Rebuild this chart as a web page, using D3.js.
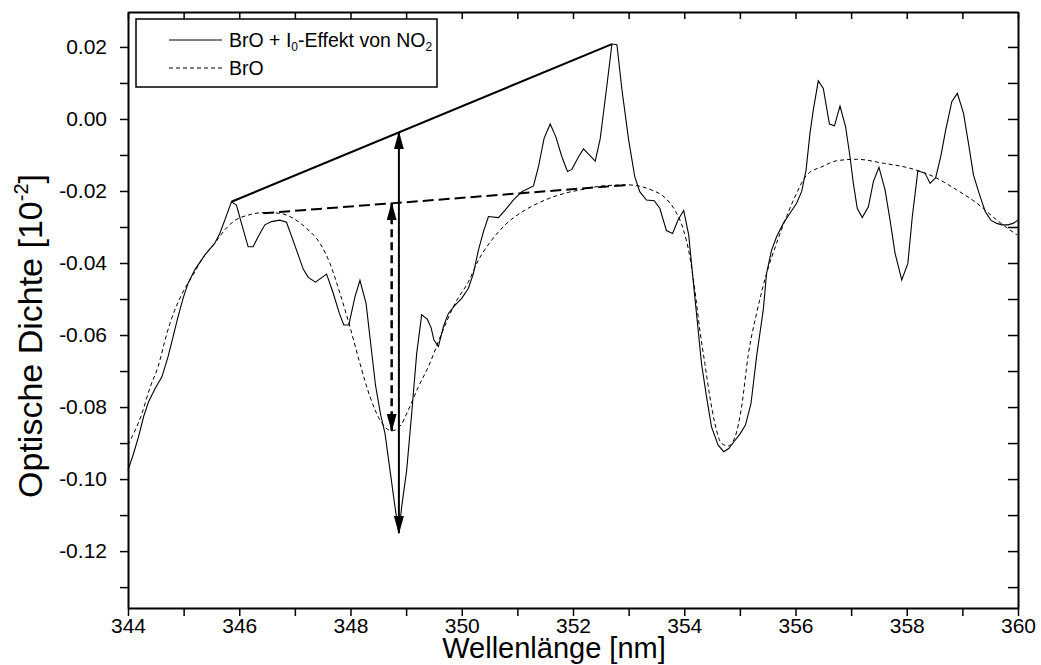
<!DOCTYPE html>
<html>
<head>
<meta charset="utf-8">
<script src="https://cdn.jsdelivr.net/npm/d3@7"></script>
<style>
  body { margin: 0; background: #fff; }
  svg { font-family: Arial, "Liberation Sans", sans-serif; }
</style>
</head>
<body>
<svg width="1041" height="665"></svg>
<script>

// measured spectrum: BrO + I0-Effekt von NO2
var solidNm = [344.00, 344.10, 344.19, 344.28, 344.37, 344.49, 344.61, 344.72, 344.81, 344.90,
    344.99, 345.08, 345.20, 345.38, 345.56, 345.65, 345.74, 345.86, 345.95, 346.04,
    346.16, 346.25, 346.34, 346.46, 346.58, 346.73, 346.85, 347.02, 347.15, 347.24,
    347.37, 347.57, 347.69, 347.80, 347.88, 347.97, 348.08, 348.17, 348.28, 348.36,
    348.45, 348.54, 348.62, 348.71, 348.80, 348.87, 348.92, 349.01, 349.10, 349.19,
    349.28, 349.38, 349.45, 349.50, 349.58, 349.67, 349.76, 349.88, 350.00, 350.12,
    350.21, 350.30, 350.39, 350.48, 350.66, 350.78, 350.93, 351.08, 351.29, 351.38,
    351.48, 351.59, 351.69, 351.80, 351.90, 351.98, 352.10, 352.19, 352.40, 352.49,
    352.60, 352.70, 352.79, 352.88, 353.00, 353.11, 353.20, 353.32, 353.46, 353.56,
    353.68, 353.79, 353.89, 353.99, 354.08, 354.13, 354.19, 354.25, 354.31, 354.40,
    354.49, 354.61, 354.71, 354.80, 354.90, 355.00, 355.10, 355.20, 355.30, 355.42,
    355.48, 355.57, 355.66, 355.78, 355.90, 356.02, 356.11, 356.19, 356.26, 356.32,
    356.41, 356.50, 356.61, 356.70, 356.80, 356.90, 356.98, 357.04, 357.11, 357.20,
    357.31, 357.40, 357.50, 357.61, 357.70, 357.79, 357.91, 358.02, 358.10, 358.20,
    358.33, 358.42, 358.52, 358.61, 358.70, 358.81, 358.91, 359.02, 359.11, 359.20,
    359.30, 359.41, 359.51, 359.62, 359.71, 359.82, 359.91, 360.00];
var solidOD = [-0.0975, -0.0929, -0.0882, -0.0827, -0.0785, -0.0748, -0.0716, -0.0660, -0.0605, -0.0549,
    -0.0498, -0.0456, -0.0419, -0.0378, -0.0345, -0.0318, -0.0281, -0.0230, -0.0239, -0.0290,
    -0.0355, -0.0355, -0.0327, -0.0294, -0.0285, -0.0281, -0.0287, -0.0360, -0.0417, -0.0440,
    -0.0453, -0.0431, -0.0484, -0.0540, -0.0572, -0.0572, -0.0494, -0.0448, -0.0512, -0.0620,
    -0.0740, -0.0820, -0.0873, -0.0975, -0.1077, -0.1150, -0.1077, -0.0975, -0.0818, -0.0651,
    -0.0544, -0.0556, -0.0580, -0.0614, -0.0632, -0.0577, -0.0540, -0.0517, -0.0498, -0.0470,
    -0.0429, -0.0364, -0.0313, -0.0271, -0.0274, -0.0253, -0.0225, -0.0202, -0.0186, -0.0132,
    -0.0054, -0.0014, -0.0049, -0.0105, -0.0146, -0.0140, -0.0105, -0.0083, -0.0117, -0.0054,
    0.0081, 0.0208, 0.0206, 0.0081, -0.0058, -0.0160, -0.0202, -0.0225, -0.0227, -0.0248,
    -0.0310, -0.0318, -0.0280, -0.0254, -0.0322, -0.0401, -0.0494, -0.0586, -0.0679, -0.0771,
    -0.0855, -0.0906, -0.0924, -0.0915, -0.0895, -0.0875, -0.0850, -0.0790, -0.0660, -0.0531,
    -0.0429, -0.0364, -0.0327, -0.0290, -0.0262, -0.0234, -0.0202, -0.0142, -0.0040, 0.0025,
    0.0106, 0.0085, -0.0014, -0.0019, 0.0036, -0.0021, -0.0105, -0.0179, -0.0248, -0.0274,
    -0.0244, -0.0174, -0.0134, -0.0197, -0.0281, -0.0373, -0.0447, -0.0401, -0.0271, -0.0144,
    -0.0151, -0.0179, -0.0163, -0.0105, -0.0031, 0.0048, 0.0071, 0.0016, -0.0068, -0.0156,
    -0.0206, -0.0257, -0.0281, -0.0290, -0.0294, -0.0294, -0.0290, -0.0281];

// fitted BrO reference
var fitNm = [344.00, 344.25, 344.40, 344.54, 344.70, 344.84, 344.99, 345.15, 345.38, 345.56,
    345.74, 345.92, 346.16, 346.46, 346.73, 346.91, 347.21, 347.45, 347.63, 347.81,
    347.99, 348.17, 348.35, 348.53, 348.74, 348.89, 349.04, 349.22, 349.40, 349.64,
    349.88, 350.12, 350.30, 350.54, 350.78, 351.14, 351.50, 351.86, 352.13, 352.60,
    353.00, 353.20, 353.41, 353.65, 353.83, 353.98, 354.10, 354.19, 354.28, 354.37,
    354.46, 354.55, 354.67, 354.79, 354.92, 355.03, 355.15, 355.30, 355.48, 355.66,
    355.84, 356.02, 356.20, 356.50, 356.74, 357.10, 357.58, 358.06, 358.48, 358.90,
    359.26, 359.62, 359.98];
var fitOD = [-0.0905, -0.0818, -0.0744, -0.0688, -0.0595, -0.0531, -0.0480, -0.0438, -0.0378, -0.0345,
    -0.0308, -0.0282, -0.0267, -0.0260, -0.0262, -0.0271, -0.0304, -0.0345, -0.0401, -0.0484,
    -0.0577, -0.0679, -0.0771, -0.0836, -0.0866, -0.0853, -0.0808, -0.0744, -0.0688, -0.0595,
    -0.0512, -0.0452, -0.0392, -0.0336, -0.0294, -0.0253, -0.0225, -0.0206, -0.0197, -0.0185,
    -0.0183, -0.0187, -0.0197, -0.0218, -0.0253, -0.0305, -0.0382, -0.0475, -0.0586, -0.0679,
    -0.0771, -0.0845, -0.0901, -0.0908, -0.0880, -0.0800, -0.0656, -0.0540, -0.0429, -0.0345,
    -0.0271, -0.0206, -0.0156, -0.0131, -0.0116, -0.0112, -0.0123, -0.0137, -0.0160, -0.0197,
    -0.0234, -0.0281, -0.0322];

// annotation: tangent lines over the maxima and the two depth arrows
var tangentSolid = [[345.86, -0.0230], [352.70, 0.0208]];
var tangentDashed = [[346.43, -0.0262], [353.00, -0.0183]];
var arrowSolid = [[348.87, -0.0037], [348.87, -0.1150]];
var arrowDashed = [[348.74, -0.0234], [348.74, -0.0866]];

var xTickLabels = [344, 346, 348, 350, 352, 354, 356, 358, 360];
var yTickLabels = [0.02, 0.00, -0.02, -0.04, -0.06, -0.08, -0.10, -0.12];

var plotLeft = 128, plotRight = 1018, plotTop = 12, plotBottom = 608;

var svg = d3.select("svg");

var xScale = d3.scaleLinear()
    .domain([344, 360])
    .range([plotLeft, plotRight]);

var yScale = d3.scaleLinear()
    .domain([-0.1358, 0.0297])
    .range([plotBottom, plotTop]);

var xMinor = d3.range(344, 360.5, 1);
var yMinor = d3.range(-13, 3, 1).map(function (d) { return d / 100; });

// axes
var xAxis = d3.axisBottom(xScale).tickValues(xMinor).tickSize(8).tickSizeOuter(0)
    .tickFormat(function (d) { return xTickLabels.indexOf(d) >= 0 ? d : ""; });
var yAxis = d3.axisLeft(yScale).tickValues(yMinor).tickSize(8).tickSizeOuter(0)
    .tickFormat(function (d) {
        var hit = yTickLabels.some(function (v) { return Math.abs(v - d) < 1e-9; });
        return hit ? d3.format(".2f")(d).replace("\u2212", "-") : "";
    });
var xTop = d3.axisTop(xScale).tickValues(xMinor).tickSize(-7).tickSizeOuter(0).tickFormat("");
var yRight = d3.axisRight(yScale).tickValues(yMinor).tickSize(-10).tickSizeOuter(0).tickFormat("");

var gx = svg.append("g").attr("transform", "translate(0," + plotBottom + ")").call(xAxis);
var gy = svg.append("g").attr("transform", "translate(" + plotLeft + ",0)").call(yAxis);
svg.append("g").attr("transform", "translate(0," + plotTop + ")").call(xTop);
svg.append("g").attr("transform", "translate(" + plotRight + ",0)").call(yRight);

svg.selectAll(".domain").attr("stroke", "#000").attr("stroke-width", 2);
svg.selectAll(".tick line").attr("stroke", "#000").attr("stroke-width", 1.5);
gx.selectAll("text").attr("font-size", 21).attr("dy", "0.66em").attr("fill", "#000")
    .attr("font-family", "Arial, 'Liberation Sans', sans-serif");
gy.selectAll("text").attr("font-size", 21).attr("x", -21).attr("fill", "#000")
    .attr("font-family", "Arial, 'Liberation Sans', sans-serif");

// axis titles
svg.append("text")
    .attr("x", 554)
    .attr("y", 658)
    .attr("text-anchor", "middle")
    .attr("font-size", 29)
    .text("Wellenlänge [nm]");

var yt = svg.append("text")
    .attr("transform", "translate(42,336) rotate(-90)")
    .attr("text-anchor", "middle")
    .attr("font-size", 34);
yt.append("tspan").text("Optische Dichte [10");
yt.append("tspan").attr("font-size", 20).attr("dy", -14).text("-2");
yt.append("tspan").attr("dy", 14).text("]");

// data lines
var line = d3.line()
    .x(function (d) { return xScale(d[0]); })
    .y(function (d) { return yScale(d[1]); });

svg.append("path")
    .datum(d3.zip(fitNm, fitOD))
    .attr("d", line.curve(d3.curveMonotoneX))
    .attr("fill", "none")
    .attr("stroke", "#000")
    .attr("stroke-width", 1)
    .attr("stroke-dasharray", "4,3");

svg.append("path")
    .datum(d3.zip(solidNm, solidOD))
    .attr("d", line.curve(d3.curveLinear))
    .attr("fill", "none")
    .attr("stroke", "#000")
    .attr("stroke-width", 1.1);

// arrowheads
var defs = svg.append("defs");
defs.append("marker")
    .attr("id", "head")
    .attr("viewBox", "0 0 18 10")
    .attr("refX", 17)
    .attr("refY", 5)
    .attr("markerWidth", 18)
    .attr("markerHeight", 10)
    .attr("markerUnits", "userSpaceOnUse")
    .attr("orient", "auto-start-reverse")
    .append("path")
    .attr("d", "M0,0 L18,5 L0,10 Z")
    .attr("fill", "#000");

svg.append("path")
    .datum(tangentSolid)
    .attr("d", line)
    .attr("fill", "none")
    .attr("stroke", "#000")
    .attr("stroke-width", 2);

svg.append("path")
    .datum(tangentDashed)
    .attr("d", line)
    .attr("fill", "none")
    .attr("stroke", "#000")
    .attr("stroke-width", 2)
    .attr("stroke-dasharray", "11,5");

svg.append("path")
    .datum(arrowSolid)
    .attr("d", line)
    .attr("fill", "none")
    .attr("stroke", "#000")
    .attr("stroke-width", 2)
    .attr("marker-start", "url(#head)")
    .attr("marker-end", "url(#head)");

svg.append("path")
    .datum(arrowDashed)
    .attr("d", line)
    .attr("fill", "none")
    .attr("stroke", "#000")
    .attr("stroke-width", 2.5)
    .attr("stroke-dasharray", "8,5")
    .attr("marker-start", "url(#head)")
    .attr("marker-end", "url(#head)");

// legend box
var legend = svg.append("g");
legend.append("rect")
    .attr("x", 136).attr("y", 19)
    .attr("width", 301).attr("height", 68)
    .attr("fill", "#fff")
    .attr("stroke", "#000")
    .attr("stroke-width", 1.5);

legend.append("line")
    .attr("x1", 169).attr("x2", 222).attr("y1", 40).attr("y2", 40)
    .attr("stroke", "#000").attr("stroke-width", 1);
legend.append("line")
    .attr("x1", 169).attr("x2", 222).attr("y1", 68).attr("y2", 68)
    .attr("stroke", "#000").attr("stroke-width", 1)
    .attr("stroke-dasharray", "4,3");

var l1 = legend.append("text").attr("x", 229).attr("y", 47).attr("font-size", 19.5);
l1.append("tspan").text("BrO + I");
l1.append("tspan").attr("font-size", 12).attr("dy", 4).text("0");
l1.append("tspan").attr("dy", -4).text("-Effekt von NO");
l1.append("tspan").attr("font-size", 12).attr("dy", 4).text("2");

legend.append("text").attr("x", 229).attr("y", 75).attr("font-size", 19.5).text("BrO");

</script>
</body>
</html>
